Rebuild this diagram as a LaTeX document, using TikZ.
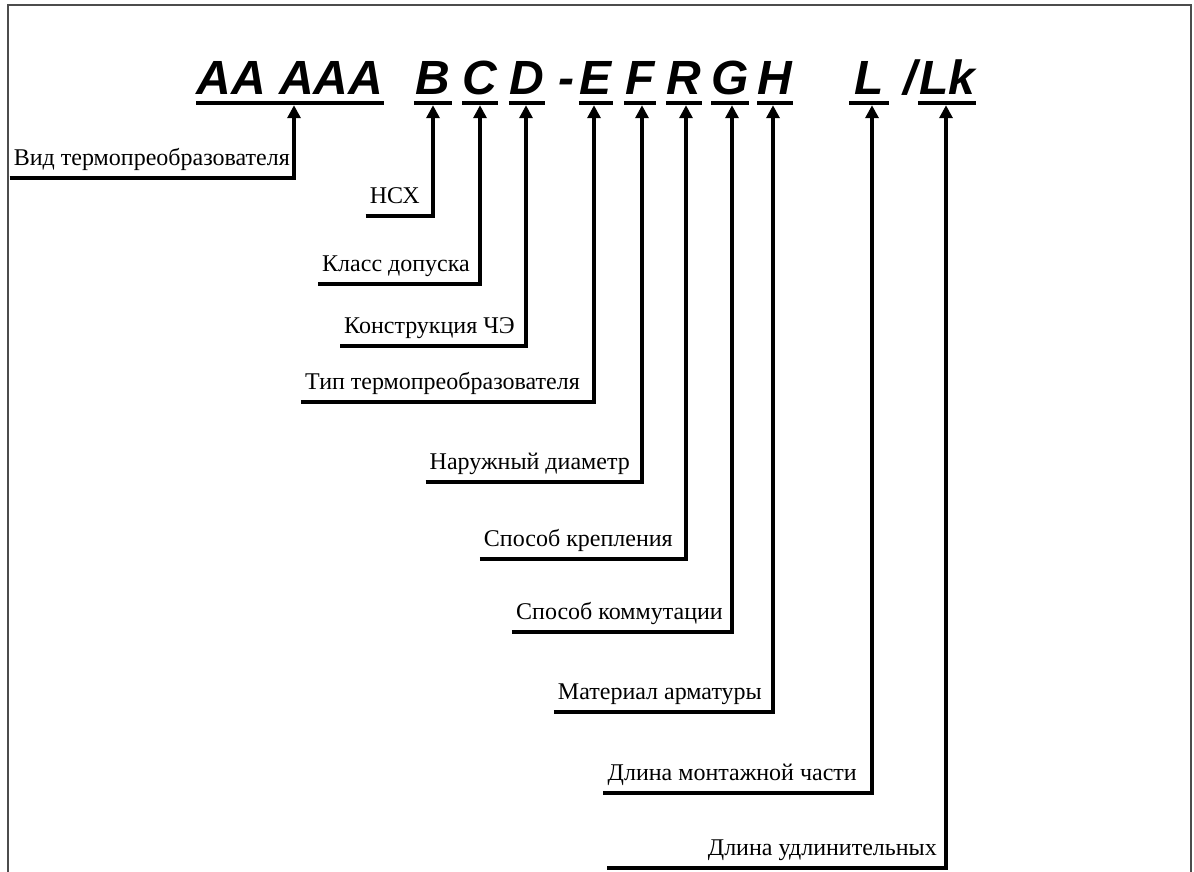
\documentclass[tikz,border=0pt]{standalone}
\usepackage{fontspec}
\newfontfamily\keyfont{Liberation Sans}
\newfontfamily\labfont{Liberation Serif}
\usetikzlibrary{arrows.meta}
\tikzset{
    key/.style = {font = \keyfont\bfseries\itshape\fontsize{48}{48}\selectfont, inner xsep = 0pt, inner ysep = 8pt, text depth = 0pt, anchor = base},
    lab/.style = {font = \labfont\fontsize{24}{24}\selectfont, inner xsep = 4pt, inner ysep = 0pt, text depth = 12pt, anchor = south east},
    bar/.style = {line width = 4pt},
    link/.style = {line width = 3.5pt, -{Triangle[length = 13pt, width = 13pt]}, shorten > = 2pt}
}
\begin{document}
\begin{tikzpicture}[x = 1pt, y = -1pt]
    \useasboundingbox (0,0) rectangle (1194,872);
    \draw[line width = 1.5pt, gray!60!black] (8,872) -- (8,5) -- (1191,5) -- (1191,872);
    \begin{scope}
        \node[key, minimum width = 185pt] (kAA) at (290,95) {AA AAA};
        \node[key, minimum width = 38pt] (kB) at (433,95) {B};
        \node[key, minimum width = 34pt] (kC) at (480,95) {C};
        \node[key, minimum width = 36pt] (kD) at (527,95) {D};
        \node[key] (dash) at (566,95) {-};
        \node[key, minimum width = 34pt] (kE) at (596,95) {E};
        \node[key, minimum width = 32pt] (kF) at (640,95) {F};
        \node[key, minimum width = 36pt] (kR) at (684,95) {R};
        \node[key, minimum width = 34pt] (kG) at (730,95) {G};
        \node[key, minimum width = 35pt] (kH) at (775,95) {H};
        \node[key, minimum width = 39pt] (kL) at (869,95) {L};
        \node[key] (slash) at (910,95) {/};
        \node[key, minimum width = 58pt] (kLk) at (947,95) {Lk};
    \end{scope}
    \foreach \k in {kAA,kB,kC,kD,kE,kF,kR,kG,kH,kL,kLk}
        \draw[bar] (\k.south west) -- (\k.south east);
    \node[lab] (lAA) at (294,178) {Вид термопреобразователя};
    \node[lab] (lB) at (424,216) {НСХ};
    \node[lab] (lC) at (474,284) {Класс допуска};
    \node[lab] (lD) at (519,346) {Конструкция ЧЭ};
    \node[lab] (lE) at (584,402) {Тип термопреобразователя};
    \node[lab] (lF) at (634,482) {Наружный диаметр};
    \node[lab] (lR) at (677,559) {Способ крепления};
    \node[lab] (lG) at (727,632) {Способ коммутации};
    \node[lab] (lH) at (766,712) {Материал арматуры};
    \node[lab] (lL) at (861,793) {Длина монтажной части};
    \node[lab] (lLk) at (941,868) {Длина удлинительных};
    \coordinate (tLk) at (607,868);
    \draw[link] (lAA.south west) -| ([xshift = 4pt]kAA.south);
    \draw[link] (lB.south west) -| (kB.south);
    \draw[link] (lC.south west) -| (kC.south);
    \draw[link] (lD.south west) -| ([xshift = -1pt]kD.south);
    \draw[link] (lE.south west) -| ([xshift = -2pt]kE.south);
    \draw[link] (lF.south west) -| ([xshift = 2pt]kF.south);
    \draw[link] (lR.south west) -| ([xshift = 2pt]kR.south);
    \draw[link] (lG.south west) -| ([xshift = 2pt]kG.south);
    \draw[link] (lH.south west) -| ([xshift = -2pt]kH.south);
    \draw[link] (lL.south west) -| ([xshift = 3pt]kL.south);
    \draw[link] (tLk) -| ([xshift = -1pt]kLk.south);
\end{tikzpicture}
\end{document}
